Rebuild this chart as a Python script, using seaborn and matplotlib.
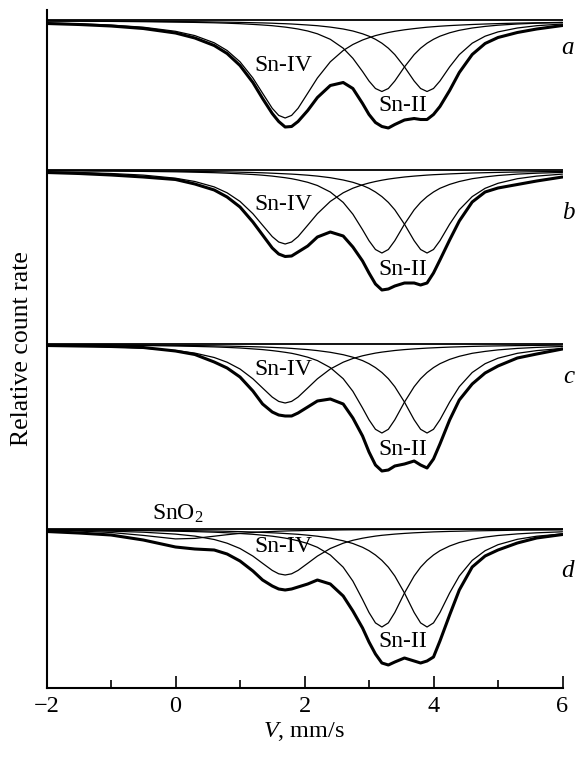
import matplotlib
matplotlib.use("Agg")
import matplotlib.pyplot as plt
import seaborn as sns

# velocity grid (mm/s)
velocity = [-2.0, -1.5, -1.0, -0.5, 0.0, 0.3, 0.6, 0.8, 1.0, 1.2, 1.35, 1.5, 1.6, 1.7,
            1.8, 1.9, 2.05, 2.2, 2.4, 2.6, 2.75, 2.9, 3.0, 3.1, 3.2, 3.3, 3.4, 3.55,
            3.7, 3.8, 3.9, 4.0, 4.1, 4.25, 4.4, 4.6, 4.8, 5.0, 5.3, 5.6, 6.0]

# absorption depth below each spectrum's baseline (arbitrary units)
# ---- panel a
a_sn4 = [2.5, 3.3, 4.6, 6.7, 10.8, 15.1, 22.3, 30.0, 41.3, 57.5, 72.7, 87.8, 94.9, 97.5,
         94.9, 87.8, 72.7, 57.5, 41.3, 30.0, 24.0, 19.5, 17.2, 15.1, 13.5, 12.0, 10.8, 9.3,
         8.1, 7.4, 6.7, 6.2, 5.7, 5.1, 4.6, 4.0, 3.5, 3.1, 2.6, 2.3, 1.9]
a_sn2_1 = [0.6, 0.7, 0.9, 1.2, 1.6, 1.9, 2.3, 2.7, 3.2, 3.9, 4.5, 5.2, 5.9, 6.6,
           7.5, 8.5, 10.5, 13.3, 18.8, 27.7, 37.8, 51.0, 60.5, 68.0, 71.0, 68.0, 60.5, 46.4,
           34.1, 27.7, 22.7, 18.8, 15.7, 12.3, 9.8, 7.5, 5.9, 4.7, 3.5, 2.7, 2.0]
a_sn2_2 = [0.5, 0.6, 0.7, 0.8, 1.1, 1.2, 1.5, 1.7, 1.9, 2.2, 2.4, 2.7, 3.0, 3.2,
           3.5, 3.9, 4.5, 5.2, 6.6, 8.5, 10.5, 13.3, 15.7, 18.8, 22.7, 27.7, 34.1, 46.4,
           60.5, 68.0, 71.0, 68.0, 60.5, 46.4, 34.1, 22.7, 15.7, 11.4, 7.5, 5.2, 3.5]
a_data = [3, 4, 5.5, 8, 12.5, 17.5, 25, 33, 45, 62, 78, 93, 101, 106.5,
          106, 101, 90, 77, 65, 62, 68, 83, 94, 102, 106, 107.5, 104, 99.5,
          98, 99, 99, 94, 86, 70, 52, 34, 23, 17, 12, 8.5, 5]
# ---- panel b
b_sn4 = [1.9, 2.5, 3.5, 5.1, 8.2, 11.5, 16.9, 22.8, 31.4, 43.7, 55.2, 66.6, 72.0, 74.0,
         72.0, 66.6, 55.2, 43.7, 31.4, 22.8, 18.2, 14.8, 13.0, 11.5, 10.2, 9.1, 8.2, 7.0,
         6.1, 5.6, 5.1, 4.7, 4.4, 3.9, 3.5, 3.0, 2.7, 2.4, 2.0, 1.7, 1.4]
b_sn2_1 = [0.7, 0.9, 1.1, 1.4, 1.8, 2.2, 2.7, 3.2, 3.8, 4.5, 5.2, 6.1, 6.9, 7.7,
           8.7, 10.0, 12.3, 15.5, 22.0, 32.4, 44.2, 59.7, 70.7, 79.5, 83.0, 79.5, 70.7, 54.2,
           39.8, 32.4, 26.6, 22.0, 18.3, 14.4, 11.5, 8.7, 6.9, 5.5, 4.1, 3.2, 2.4]
b_sn2_2 = [0.5, 0.6, 0.8, 1.0, 1.2, 1.5, 1.7, 1.9, 2.2, 2.5, 2.8, 3.2, 3.5, 3.8,
           4.1, 4.5, 5.2, 6.1, 7.7, 10.0, 12.3, 15.5, 18.3, 22.0, 26.6, 32.4, 39.8, 54.2,
           70.7, 79.5, 83.0, 79.5, 70.7, 54.2, 39.8, 26.6, 18.3, 13.3, 8.7, 6.1, 4.1]
b_data = [2.5, 3.5, 5, 7, 9.5, 14, 20, 27, 37, 52, 65, 78, 84, 86.5,
          86, 82, 76, 67, 62, 66, 77, 91, 103, 114, 120, 119, 116, 113,
          113, 115, 113, 103, 90, 70, 51, 32, 22, 18, 14.5, 11, 7]
# ---- panel c
c_sn4 = [1.5, 2.0, 2.8, 4.1, 6.5, 9.1, 13.5, 18.2, 25.0, 34.8, 44.0, 53.1, 57.4, 59.0,
         57.4, 53.1, 44.0, 34.8, 25.0, 18.2, 14.5, 11.8, 10.4, 9.1, 8.1, 7.3, 6.5, 5.6,
         4.9, 4.5, 4.1, 3.8, 3.5, 3.1, 2.8, 2.4, 2.1, 1.9, 1.6, 1.4, 1.1]
c_sn2_1 = [0.8, 0.9, 1.1, 1.5, 2.0, 2.4, 2.9, 3.4, 4.0, 4.9, 5.6, 6.6, 7.4, 8.3,
           9.3, 10.7, 13.2, 16.6, 23.6, 34.7, 47.3, 64.0, 75.8, 85.3, 89.0, 85.3, 75.8, 58.1,
           42.7, 34.7, 28.5, 23.6, 19.7, 15.4, 12.3, 9.3, 7.4, 5.9, 4.4, 3.4, 2.5]
c_sn2_2 = [0.6, 0.7, 0.8, 1.1, 1.3, 1.6, 1.8, 2.1, 2.4, 2.7, 3.0, 3.4, 3.7, 4.0,
           4.4, 4.9, 5.6, 6.6, 8.3, 10.7, 13.2, 16.6, 19.7, 23.6, 28.5, 34.7, 42.7, 58.1,
           75.8, 85.3, 89.0, 85.3, 75.8, 58.1, 42.7, 28.5, 19.7, 14.2, 9.3, 6.6, 4.4]
c_data = [1.5, 2, 2.5, 3.5, 7, 10.5, 18, 24, 33, 47, 60, 68, 71, 72,
          72, 69, 63, 57, 55, 60, 74, 92, 108, 121, 127, 126, 122, 120,
          117, 121, 124, 115, 100, 76, 56, 40, 29, 22, 14, 10, 5]
# ---- panel d
d_sn4 = [1.2, 1.6, 2.2, 3.2, 5.1, 7.1, 10.5, 14.2, 19.5, 27.1, 34.3, 41.4, 44.8, 46.0,
         44.8, 41.4, 34.3, 27.1, 19.5, 14.2, 11.3, 9.2, 8.1, 7.1, 6.3, 5.7, 5.1, 4.4,
         3.8, 3.5, 3.2, 2.9, 2.7, 2.4, 2.2, 1.9, 1.7, 1.5, 1.2, 1.1, 0.9]
d_sn2_1 = [0.8, 1.0, 1.3, 1.6, 2.2, 2.6, 3.2, 3.8, 4.5, 5.3, 6.2, 7.2, 8.1, 9.1,
           10.3, 11.8, 14.5, 18.3, 26.0, 38.2, 52.1, 70.5, 83.5, 93.9, 98.0, 93.9, 83.5, 64.0,
           47.0, 38.2, 31.4, 26.0, 21.7, 17.0, 13.5, 10.3, 8.1, 6.5, 4.9, 3.8, 2.8]
d_sn2_2 = [0.6, 0.8, 0.9, 1.2, 1.5, 1.7, 2.0, 2.3, 2.6, 3.0, 3.4, 3.8, 4.1, 4.5,
           4.9, 5.3, 6.2, 7.2, 9.1, 11.8, 14.5, 18.3, 21.7, 26.0, 31.4, 38.2, 47.0, 64.0,
           83.5, 93.9, 98.0, 93.9, 83.5, 64.0, 47.0, 31.4, 21.7, 15.7, 10.3, 7.2, 4.9]
d_sno2 = [1.3, 2.0, 3.5, 6.4, 9.9, 9.4, 7.2, 5.7, 4.4, 3.5, 2.9, 2.5, 2.2, 2.0,
          1.8, 1.7, 1.4, 1.3, 1.1, 0.9, 0.8, 0.8, 0.7, 0.7, 0.6, 0.6, 0.6, 0.5,
          0.5, 0.4, 0.4, 0.4, 0.4, 0.4, 0.3, 0.3, 0.3, 0.3, 0.2, 0.2, 0.2]
d_data = [2.5, 4, 6, 11, 18, 20, 21, 25, 32, 42, 51, 57, 60, 61,
          60, 58, 55, 51, 55, 67, 82, 99, 113, 125, 134, 136, 133, 129,
          132, 134, 132, 128, 112, 86, 61, 38, 27, 21, 14, 9, 5.5]

panel_letters = ["a", "b", "c", "d"]
baseline = [20.5, 170, 344, 529]          # vertical offset of each spectrum
components = [[a_sn4, a_sn2_1, a_sn2_2], [b_sn4, b_sn2_1, b_sn2_2],
              [c_sn4, c_sn2_1, c_sn2_2], [d_sn4, d_sn2_1, d_sn2_2, d_sno2]]
measured = [a_data, b_data, c_data, d_data]
zero = [0.0] * len(velocity)

sns.set_theme(style="ticks")
plt.rcParams["font.family"] = ["Liberation Serif", "DejaVu Serif"]
plt.rcParams["mathtext.fontset"] = "custom"
plt.rcParams["mathtext.rm"] = "Liberation Serif"
plt.rcParams["mathtext.it"] = "Liberation Serif:italic"
plt.rcParams["text.color"] = "black"

fig = plt.figure(figsize=(5.75, 7.57), dpi=100)
ax = fig.add_axes([46.5 / 575, 1 - 688 / 757, (562.5 - 46.5) / 575, (688 - 10) / 757])

letter_dy = [28, 43, 33, 42]
sn4_dy = [45, 35, 26, 18]
sn2_dy = [85, 100, 106, 113]
for i in range(4):
    b0 = baseline[i]
    sns.lineplot(x=velocity, y=[b0 + z for z in zero], ax=ax, color="black", lw=1.3)
    for comp in components[i]:
        sns.lineplot(x=velocity, y=[b0 + v for v in comp], ax=ax, color="black", lw=0.9)
    sns.lineplot(x=velocity, y=[b0 + v for v in measured[i]], ax=ax, color="black", lw=2.2)
    ax.text(6.18, b0 + letter_dy[i], panel_letters[i], fontsize=18, style="italic",
            ha="right", va="center", clip_on=False, color="black")
    ax.text(1.67, b0 + sn4_dy[i], "Sn-IV", fontsize=17, ha="center", va="center", color="black")
    ax.text(3.53, b0 + sn2_dy[i], "Sn-II", fontsize=17, ha="center", va="center", color="black")

ax.text(0.04, 514, r"SnO$_2$", fontsize=17, ha="center", va="center", color="black")

ax.set_xlim(-2, 6)
ax.set_ylim(688, 10)
ax.set_xticks([-2, 0, 2, 4, 6])
ax.set_xticks([-1, 1, 3, 5], minor=True)
ax.set_yticks([])
ax.tick_params(axis="x", which="major", direction="in", length=9, width=1.2,
               labelsize=17.5, pad=6, colors="black")
ax.tick_params(axis="x", which="minor", direction="in", length=6, width=1.2, colors="black")
ax.set_xlabel(r"$V$, mm/s", fontsize=17.5, labelpad=2, color="black")
ax.set_ylabel("Relative count rate", fontsize=18.5, labelpad=10, color="black")
sns.despine(ax=ax)
for s in ["left", "bottom"]:
    ax.spines[s].set_linewidth(1.5)
    ax.spines[s].set_color("black")

fig.savefig("out.png", dpi=100, facecolor="white")
